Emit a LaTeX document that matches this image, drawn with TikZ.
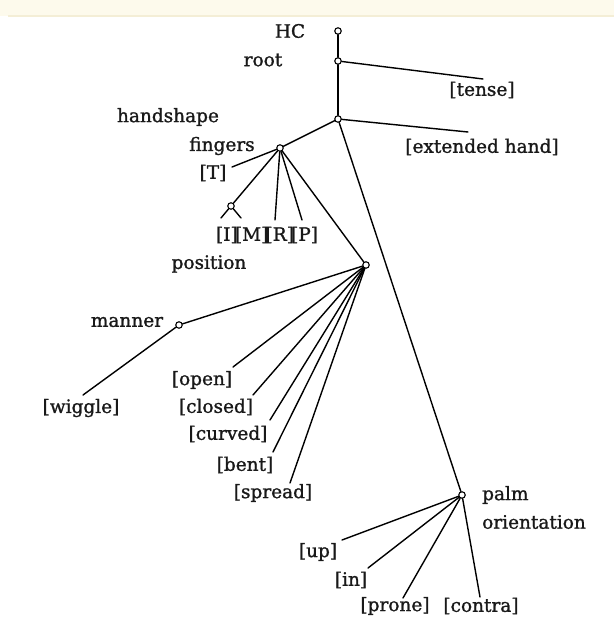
\documentclass[tikz,border=0pt]{standalone}
\usepackage{fontspec}
\setmainfont{DejaVu Serif}
\newfontfamily\lblfont{DejaVu Serif}[FakeBold=1.2]
\begin{document}
\begin{tikzpicture}[x=1pt,y=-1pt,
  dot/.style={circle,draw,fill=white,inner sep=0pt,minimum size=6.5pt,line width=1.1pt},
  lbl/.style={inner sep=0pt,text={rgb,255:red,25;green,25;blue,25},font=\lblfont\fontsize{18.5}{22}\selectfont},
  edge/.style={line width=1.4pt,line cap=round}]
% page and cream header band
\fill[white] (0,0) rectangle (614,621);
\fill[fill={rgb,255:red,253;green,250;blue,236}] (0,0) rectangle (614,16);
\draw[draw={rgb,255:red,244;green,238;blue,214},line width=1.5pt] (8,16) -- (614,16);
\useasboundingbox (0,0) rectangle (614,621);

% feature nodes
\node[dot] (hc) at (338,31) {};
\node[dot] (root) at (338,61) {};
\node[dot] (hs) at (338,119) {};
\node[dot] (fingers) at (280,148) {};
\node[dot] (inode) at (231,206) {};
\node[dot] (pos) at (366,265) {};
\node[dot] (manner) at (179,325) {};
\node[dot] (palm) at (462,495) {};

% free ends of terminal branches
\coordinate (tenseEnd) at (483,79);
\coordinate (extEnd) at (468,132);
\coordinate (TEnd) at (232,167);
\coordinate (iL) at (221,218);
\coordinate (iR) at (241,218);
\coordinate (MEnd) at (275,220);
\coordinate (REnd) at (302,220);
\coordinate (wigEnd) at (83,395);
\coordinate (openEnd) at (233,367);
\coordinate (closedEnd) at (253,395);
\coordinate (curvedEnd) at (270,420);
\coordinate (bentEnd) at (273,452);
\coordinate (spreadEnd) at (290,483);
\coordinate (upEnd) at (342,540);
\coordinate (inEnd) at (368,568);
\coordinate (proneEnd) at (403,598);
\coordinate (contraEnd) at (480,597);

% branches
\draw[edge] (hc) -- (root);
\draw[edge] (root) -- (hs);
\draw[edge] (root) -- (tenseEnd);
\draw[edge] (hs) -- (extEnd);
\draw[edge] (hs) -- (fingers);
\draw[edge] (hs) -- (palm);
\draw[edge] (fingers) -- (TEnd);
\draw[edge] (fingers) -- (inode);
\draw[edge] (fingers) -- (MEnd);
\draw[edge] (fingers) -- (REnd);
\draw[edge] (fingers) -- (pos);
\draw[edge] (inode) -- (iL);
\draw[edge] (inode) -- (iR);
\draw[edge] (pos) -- (manner);
\draw[edge] (manner) -- (wigEnd);
\draw[edge] (pos) -- (openEnd);
\draw[edge] (pos) -- (closedEnd);
\draw[edge] (pos) -- (curvedEnd);
\draw[edge] (pos) -- (bentEnd);
\draw[edge] (pos) -- (spreadEnd);
\draw[edge] (palm) -- (upEnd);
\draw[edge] (palm) -- (inEnd);
\draw[edge] (palm) -- (proneEnd);
\draw[edge] (palm) -- (contraEnd);

% labels
\node[lbl] (tHC) at (290,31) {HC};
\node[lbl] (tRoot) at (263,60) {root};
\node[lbl] (tHs) at (168,117) {handshape};
\node[lbl] (tFing) at (222,146) {fingers};
\node[lbl] (tT) at (213,173) {[T]};
\node[lbl] (tTense) at (482,90) {[tense]};
\node[lbl] (tExt) at (482,147) {[extended hand]};
\node[lbl] (tIMRP) at (267,235) {[I]\kern-0.15em[M]\kern-0.15em[R]\kern-0.15em[P]};
\node[lbl] (tPos) at (209,264) {position};
\node[lbl] (tMan) at (127,322) {manner};
\node[lbl] (tWig) at (81,408) {[wiggle]};
\node[lbl] (tOpen) at (202,380) {[open]};
\node[lbl] (tClosed) at (216,407) {[closed]};
\node[lbl] (tCurved) at (228,434) {[curved]};
\node[lbl] (tBent) at (245,465) {[bent]};
\node[lbl] (tSpread) at (273,493) {[spread]};
\node[lbl,anchor=west] (tPalm) at (482,495) {palm};
\node[lbl,anchor=west] (tOri) at (482,522) {orientation};
\node[lbl] (tUp) at (318,552) {[up]};
\node[lbl] (tIn) at (351,580) {[in]};
\node[lbl] (tProne) at (395,606) {[prone]};
\node[lbl] (tContra) at (481,606) {[contra]};
\end{tikzpicture}
\end{document}
